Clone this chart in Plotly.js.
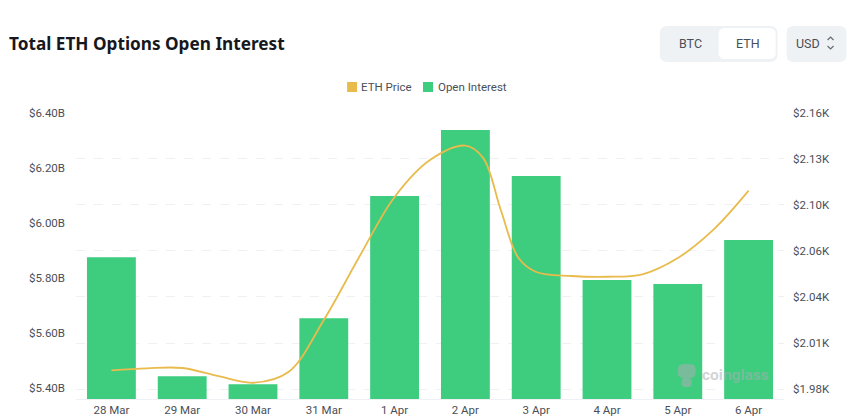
<!DOCTYPE html>
<html><head><meta charset="utf-8">
<script src="https://cdn.plot.ly/plotly-3.0.1.min.js"></script>
<style>html,body{margin:0;padding:0;background:#fff}#c{width:860px;height:420px}</style>
</head><body><div id="c"></div>
<script>
const categories=['28 Mar','29 Mar','30 Mar','31 Mar','1 Apr','2 Apr','3 Apr','4 Apr','5 Apr','6 Apr'];
const categoryPos=[0,1,2,3,4,5,6,7,8,9];
const openInterest=[5.875,5.443,5.414,5.654,6.098,6.338,6.171,5.793,5.778,5.938];
const pricePos=[0,0.5,1,1.5,2,2.5,3,3.5,4,4.5,5,5.25,5.5,5.75,6,6.5,7,7.5,8,8.5,9];
const ethPrice=[1.9922,1.9935,1.9937,1.9885,1.9841,1.9911,2.025,2.0661,2.1052,2.1293,2.1387,2.1307,2.0967,2.0654,2.0563,2.0537,2.0532,2.0548,2.0654,2.0837,2.1093];
const leftTickVals=[5.4,5.6,5.8,6.0,6.2,6.4];
const leftTickText=['$5.40B','$5.60B','$5.80B','$6.00B','$6.20B','$6.40B'];
const rightTickVals=[1.98,2.01,2.04,2.07,2.10,2.13,2.16];
const rightTickText=['$1.98K','$2.01K','$2.04K','$2.06K','$2.10K','$2.13K','$2.16K'];
const F='Roboto, "Noto Sans", sans-serif', GR='#4a4f57';
const W=860,H=420,L=75.6,R=75.6,T=112,B=21;
const px=x=>(x-L)/(W-L-R), py=y=>1-(y-T)/(H-T-B);
function rr(x0,y0,x1,y1,r,fill){
  const X=px,Y=py;
  const path=`M${X(x0+r)},${Y(y0)} L${X(x1-r)},${Y(y0)} Q${X(x1)},${Y(y0)} ${X(x1)},${Y(y0+r)} L${X(x1)},${Y(y1-r)} Q${X(x1)},${Y(y1)} ${X(x1-r)},${Y(y1)} L${X(x0+r)},${Y(y1)} Q${X(x0)},${Y(y1)} ${X(x0)},${Y(y1-r)} L${X(x0)},${Y(y0+r)} Q${X(x0)},${Y(y0)} ${X(x0+r)},${Y(y0)} Z`;
  return {type:'path',xref:'paper',yref:'paper',path,fillcolor:fill,line:{width:0},layer:'below'};
}
function chevron(x0,xm,x1,y0,ym){
  return {type:'path',xref:'paper',yref:'paper',path:`M${px(x0)},${py(y0)} L${px(xm)},${py(ym)} L${px(x1)},${py(y0)}`,line:{color:'#666b73',width:1.2},fillcolor:'rgba(0,0,0,0)'};
}
function note(t,x,y,opt){return Object.assign({text:t,xref:'paper',yref:'paper',x:px(x),y:py(y),showarrow:false,xanchor:'center',yanchor:'middle',font:{family:F,size:12.5,color:GR}},opt||{});}
const layout={
  width:W,height:H,paper_bgcolor:'#fff',plot_bgcolor:'#fff',showlegend:false,bargap:0.31,
  margin:{l:L,r:R,t:T,b:B,pad:0},
  title:{text:'<b>Total ETH Options Open Interest</b>',x:9/W,xanchor:'left',y:1-44/H,yanchor:'middle',font:{family:'"Noto Sans", sans-serif',size:17.2,color:'#16181d'}},
  xaxis:{range:[-0.5,9.5],tickvals:categoryPos,ticktext:categories,tickfont:{family:F,size:11.5,color:GR},ticks:'',showgrid:false,zeroline:false,showline:true,linecolor:'#eef0f3',linewidth:1},
  yaxis:{range:[5.36,6.4036],tickvals:leftTickVals,ticktext:leftTickText,tickfont:{family:F,size:11.5,color:GR},showgrid:false,zeroline:false,ticks:'',ticklabelstandoff:10},
  yaxis2:{overlaying:'y',side:'right',range:[1.9735,2.1606],tickvals:rightTickVals,ticktext:rightTickText,tickfont:{family:F,size:11.5,color:GR},showgrid:true,griddash:'dash',gridcolor:'#eef0f3',gridwidth:1,zeroline:false,ticks:'',ticklabelstandoff:8},
  shapes:[
    rr(660,26,778,62,8,'#eff2f5'),
    rr(719,28,776,59,6,'#ffffff'),
    rr(787,26,847,62,7,'#eff2f5'),
    rr(347,82,357,92,0,'#e8bb4c'),
    rr(423,82,433,92,0,'#3ecc7f'),
    chevron(828,831,834,40,37),
    chevron(828,831,834,46,49),
    Object.assign(rr(678,364,696,378,6,'rgba(170,175,180,0.55)'),{layer:'above'}),
    Object.assign(rr(682,378,692,387,3,'rgba(170,175,180,0.55)'),{layer:'above'})
  ],
  annotations:[
    note('ETH Price',386,87,{font:{family:F,size:11.5,color:GR}}),
    note('Open Interest',473,87,{font:{family:F,size:11.5,color:GR}}),
    note('BTC',691,43),note('ETH',748,43),note('USD',808,43),
    note('<b>coinglass</b>',736,375,{font:{family:F,size:15.5,color:'rgba(170,175,180,0.55)'}})
  ]
};
Plotly.newPlot('c',[
  {type:'bar',name:'Open Interest',x:categoryPos,y:openInterest,marker:{color:'#3ecc7f',line:{width:0}},yaxis:'y'},
  {type:'scatter',mode:'lines',name:'ETH Price',x:pricePos,y:ethPrice,yaxis:'y2',line:{color:'#e8bb4c',width:1.8,shape:'spline',smoothing:1}}
],layout,{displayModeBar:false,staticPlot:true});
</script></body></html>
